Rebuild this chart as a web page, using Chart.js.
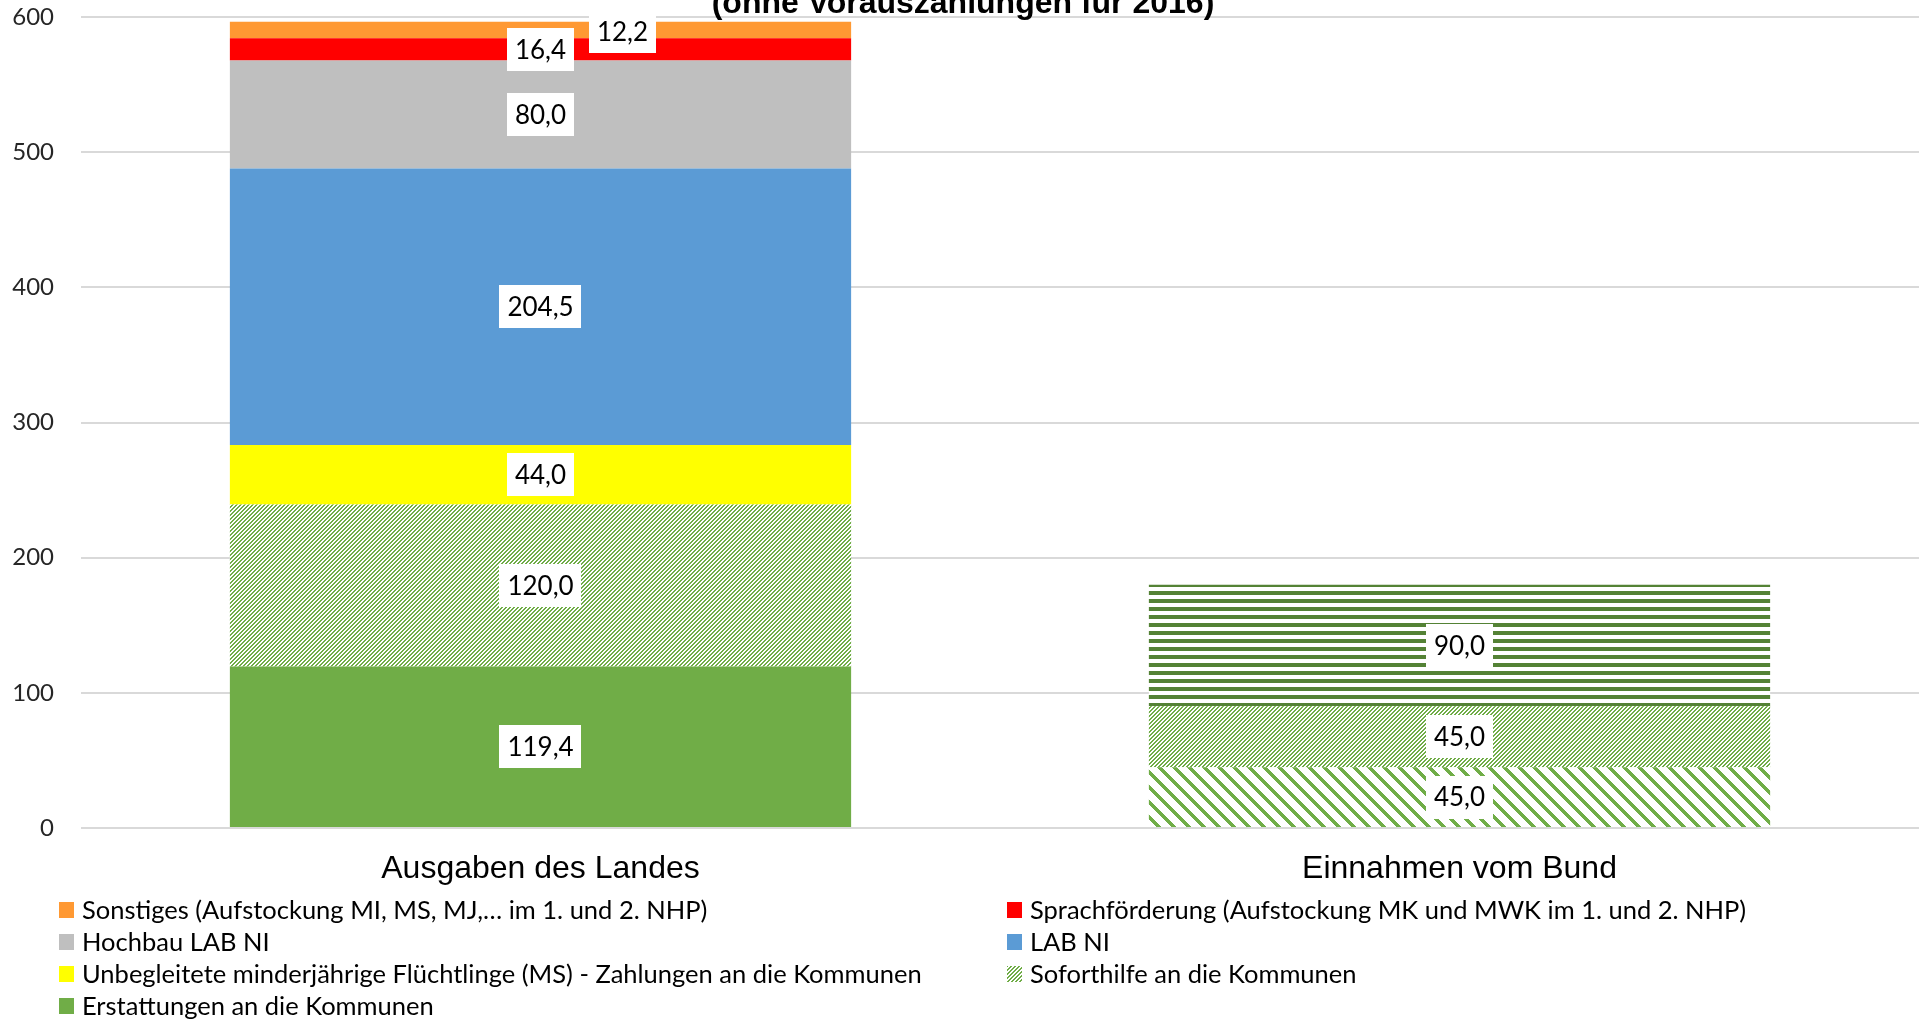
<!DOCTYPE html>
<html lang="de">
<head>
<meta charset="utf-8">
<title>Ausgaben des Landes / Einnahmen vom Bund</title>
<script src="https://cdn.jsdelivr.net/npm/chart.js@4.4.1/dist/chart.umd.min.js"></script>
<style>
  html, body { margin: 0; padding: 0; background: #fff; overflow: hidden; }
  #chart { display: block; }
</style>
</head>
<body>
<canvas id="chart" width="1921" height="1019"></canvas>
<script>
// Kategorien, Werte in Mio. EUR
const categories = ['Ausgaben des Landes', 'Einnahmen vom Bund'];
const titleText = '(ohne Vorauszahlungen für 2016)';
const yTicks = [0, 100, 200, 300, 400, 500, 600];

const erstattungen  = [119.4, null];
const bundSockel    = [null, 45.0];
const soforthilfe   = [120.0, 45.0];
const umf           = [44.0, null];
const labNi         = [204.5, null];
const hochbau       = [80.0, null];
const sprache       = [16.4, null];
const sonstiges     = [12.2, null];
const bundPauschale = [null, 90.0];

const canvas = document.getElementById('chart');
const ctx = canvas.getContext('2d');

// kleine Kachel-Muster wie in Excel
function makePattern(size, color, test) {
    const c = document.createElement('canvas');
    c.width = size; c.height = size;
    const g = c.getContext('2d');
    g.fillStyle = '#fff';
    g.fillRect(0, 0, size, size);
    g.fillStyle = color;
    for (let y = 0; y < size; y++) {
        for (let x = 0; x < size; x++) {
            if (test(x, y)) g.fillRect(x, y, 1, 1);
        }
    }
    return ctx.createPattern(c, 'repeat');
}

const upDiag = makePattern(4, '#70AD47', (x, y) => (x + y) % 4 < 2);
const wideDownDiag = makePattern(15, '#70AD47', (x, y) => ((x - y) % 15 + 15) % 15 < 5);
const horizontal = makePattern(8, '#548235', (x, y) => (y + 1) % 8 < 4);

function fmt(v) {
    return v.toFixed(1).replace('.', ',');
}

// Datenbeschriftungen in weissen Kaestchen
const valueLabels = {
    id: 'valueLabels',
    afterDatasetsDraw(chart) {
        const c = chart.ctx;
        c.save();
        c.font = '26px Lato';
        c.textAlign = 'center';
        c.textBaseline = 'middle';
        chart.data.datasets.forEach((ds, i) => {
            const meta = chart.getDatasetMeta(i);
            meta.data.forEach((bar, j) => {
                const v = ds.data[j];
                if (v == null) return;
                const txt = fmt(v);
                const x = bar.x + (ds.labelDx || 0);
                const y = (bar.y + bar.base) / 2 + (ds.labelDy || 0);
                const w = c.measureText(txt).width + 16;
                const h = 43;
                c.fillStyle = '#fff';
                c.fillRect(Math.round(x - w / 2), Math.round(y - h / 2), Math.round(w), h);
                c.fillStyle = '#000';
                c.fillText(txt, x, y + 1);
            });
        });
        c.restore();
    }
};

// Titel (obere Zeile liegt ausserhalb des Bildes)
const topTitle = {
    id: 'topTitle',
    afterDraw(chart) {
        const c = chart.ctx;
        c.save();
        c.font = 'bold 32px "Liberation Sans", Arial, sans-serif';
        c.textAlign = 'center';
        c.textBaseline = 'alphabetic';
        c.fillStyle = '#000';
        c.fillText(titleText, 963, 13);
        c.restore();
    }
};

// Legende in zwei Spalten
const gridLegend = {
    id: 'gridLegend',
    afterDraw(chart) {
        const c = chart.ctx;
        const items = chart.data.datasets.filter(d => d.inLegend).reverse();
        c.save();
        c.font = '25.5px Lato';
        c.textAlign = 'left';
        c.textBaseline = 'middle';
        items.forEach((d, k) => {
            const x = k % 2 ? 1007 : 59;
            const y = 910 + Math.floor(k / 2) * 32;
            c.fillStyle = d.backgroundColor;
            c.fillRect(x, y - 8, 15, 16);
            c.fillStyle = '#000';
            c.fillText(d.label, x + 23, y + 1);
        });
        c.restore();
    }
};

function draw() {
    new Chart(ctx, {
        type: 'bar',
        data: {
            labels: categories,
            datasets: [
                { label: 'Erstattungen an die Kommunen', data: erstattungen, backgroundColor: '#70AD47', inLegend: true },
                { label: 'Bund (Sockel)', data: bundSockel, backgroundColor: wideDownDiag, inLegend: false },
                { label: 'Soforthilfe an die Kommunen', data: soforthilfe, backgroundColor: upDiag, inLegend: true },
                { label: 'Unbegleitete minderjährige Flüchtlinge (MS) - Zahlungen an die Kommunen', data: umf, backgroundColor: '#FFFF00', inLegend: true },
                { label: 'LAB NI', data: labNi, backgroundColor: '#5B9BD5', inLegend: true },
                { label: 'Hochbau LAB NI', data: hochbau, backgroundColor: '#BFBFBF', inLegend: true },
                { label: 'Sprachförderung (Aufstockung MK und MWK im 1. und 2. NHP)', data: sprache, backgroundColor: '#FF0000', inLegend: true },
                { label: 'Sonstiges (Aufstockung MI, MS, MJ,… im 1. und 2. NHP)', data: sonstiges, backgroundColor: '#FF9933', inLegend: true, labelDx: 82, labelDy: 2 },
                { label: 'Bund (Pauschale)', data: bundPauschale, backgroundColor: horizontal, inLegend: false }
            ]
        },
        options: {
            responsive: false,
            animation: false,
            layout: { padding: { top: 17, right: 2, bottom: 131, left: 0 } },
            datasets: {
                bar: { barPercentage: 0.676, categoryPercentage: 1, borderWidth: 0 }
            },
            plugins: {
                legend: { display: false },
                title: { display: false },
                tooltip: { enabled: false }
            },
            scales: {
                x: {
                    stacked: true,
                    grid: { display: false },
                    border: { display: false },
                    ticks: {
                        color: '#000',
                        padding: 14,
                        font: { family: '"Liberation Sans", Arial, sans-serif', size: 32 }
                    },
                    afterFit(s) { s.height = 60; }
                },
                y: {
                    stacked: true,
                    min: 0,
                    max: 600,
                    afterBuildTicks(s) { s.ticks = yTicks.map(v => ({ value: v })); },
                    grid: { color: '#d9d9d9', lineWidth: 2, drawTicks: false },
                    border: { display: false },
                    ticks: {
                        color: '#262626',
                        padding: 27,
                        font: { family: 'Lato', size: 24 }
                    },
                    afterFit(s) {
                        s.width = 81;
                        s.paddingTop = 0;
                        s.paddingBottom = 0;
                    }
                }
            }
        },
        plugins: [valueLabels, topTitle, gridLegend]
    });
}

Promise.all([
    document.fonts.load('26px Lato'),
    document.fonts.load('bold 32px "Liberation Sans"'),
    document.fonts.load('32px "Liberation Sans"')
]).then(draw, draw);
</script>
</body>
</html>
